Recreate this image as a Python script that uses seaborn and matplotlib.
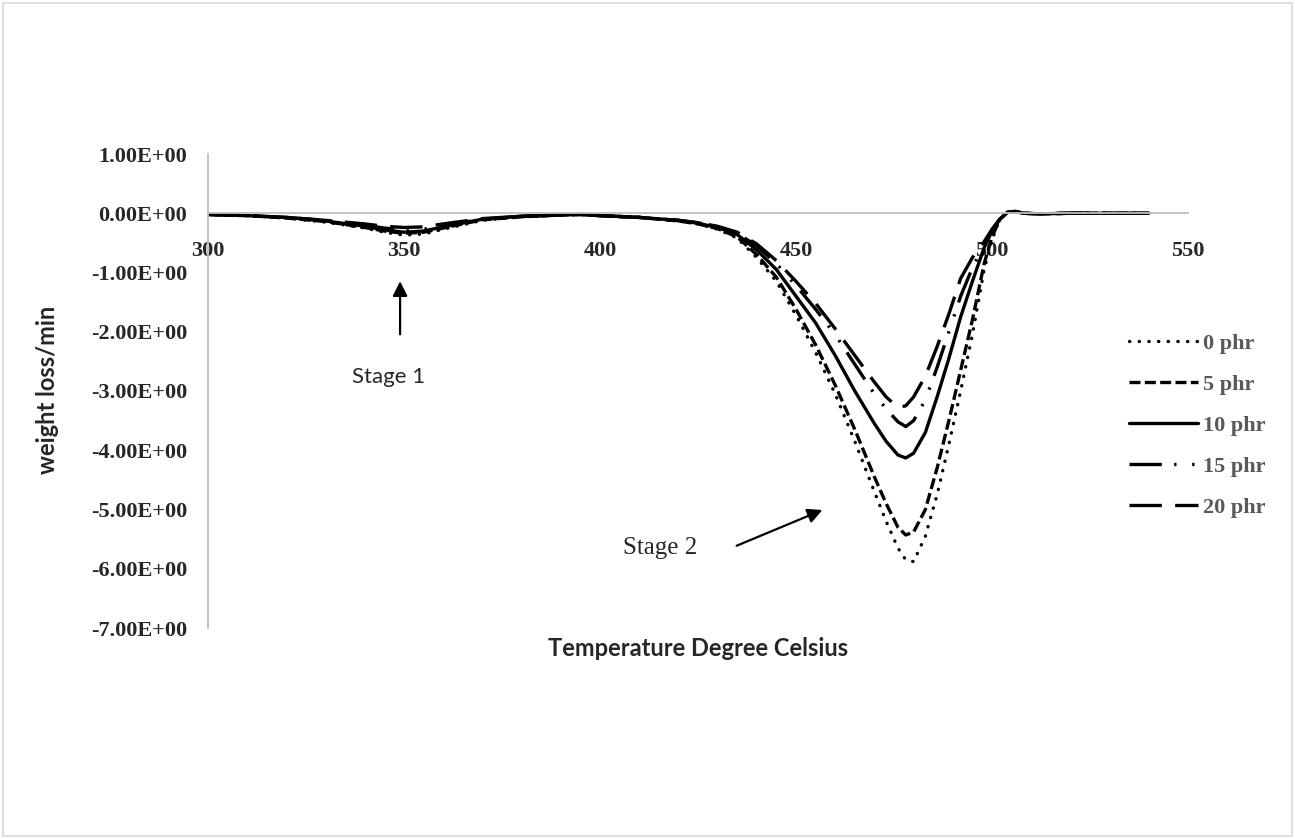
import numpy as np
import pandas as pd
import matplotlib
matplotlib.use("Agg")
from matplotlib import pyplot as plt
from matplotlib.patches import Rectangle
import seaborn as sns

# temperature (degree celsius) and weight loss/min for each filler loading
temp = [300, 310, 320, 330, 340, 345, 350, 355, 360, 370, 380, 390, 395, 400,
        410, 420, 425, 430, 435, 440, 445, 450, 455, 460, 465, 470, 473, 476,
        478, 480, 483, 486, 489, 492, 495, 498, 500, 502, 504, 506, 508, 512,
        520, 530, 540]

phr0 = [-0.02, -0.04, -0.08, -0.15, -0.25, -0.32, -0.37, -0.35, -0.27, -0.12,
        -0.06, -0.03, -0.02, -0.04, -0.07, -0.13, -0.18, -0.27, -0.42, -0.75,
        -1.15, -1.72, -2.35, -3.05, -3.85, -4.70, -5.20, -5.65, -5.85, -5.88,
        -5.45, -4.75, -3.90, -3.00, -2.05, -0.95, -0.45, -0.10, 0.02, 0.03,
        0.00, -0.01, 0.00, 0.00, 0.00]
phr5 = [-0.02, -0.04, -0.08, -0.14, -0.24, -0.30, -0.34, -0.32, -0.25, -0.11,
        -0.06, -0.03, -0.02, -0.04, -0.07, -0.13, -0.18, -0.26, -0.40, -0.70,
        -1.08, -1.62, -2.22, -2.90, -3.65, -4.45, -4.90, -5.30, -5.43, -5.38,
        -5.00, -4.30, -3.50, -2.65, -1.80, -0.85, -0.40, -0.10, 0.02, 0.03,
        0.00, -0.01, 0.00, 0.00, 0.00]
phr10 = [-0.02, -0.04, -0.07, -0.13, -0.22, -0.28, -0.32, -0.30, -0.23, -0.10,
         -0.05, -0.03, -0.02, -0.04, -0.07, -0.12, -0.17, -0.24, -0.36, -0.62,
         -0.95, -1.40, -1.85, -2.40, -3.00, -3.55, -3.85, -4.08, -4.13, -4.05,
         -3.70, -3.10, -2.45, -1.75, -1.15, -0.58, -0.30, -0.10, 0.02, 0.03,
         0.00, -0.01, 0.00, 0.00, 0.00]
phr15 = [-0.02, -0.04, -0.07, -0.12, -0.20, -0.25, -0.28, -0.27, -0.21, -0.10,
         -0.05, -0.03, -0.02, -0.04, -0.07, -0.12, -0.16, -0.23, -0.34, -0.55,
         -0.85, -1.22, -1.62, -2.05, -2.55, -3.05, -3.30, -3.52, -3.60, -3.50,
         -3.15, -2.60, -2.00, -1.40, -0.92, -0.53, -0.28, -0.10, 0.02, 0.03,
         0.00, -0.01, 0.00, 0.00, 0.00]
phr20 = [-0.02, -0.04, -0.07, -0.12, -0.18, -0.22, -0.24, -0.23, -0.18, -0.09,
         -0.05, -0.03, -0.02, -0.04, -0.07, -0.12, -0.16, -0.22, -0.32, -0.52,
         -0.80, -1.15, -1.52, -1.95, -2.40, -2.85, -3.10, -3.28, -3.25, -3.10,
         -2.75, -2.25, -1.70, -1.10, -0.75, -0.48, -0.27, -0.10, 0.02, 0.03,
         0.00, -0.01, 0.00, 0.00, 0.00]

labels = ["0 phr", "5 phr", "10 phr", "15 phr", "20 phr"]
series = [phr0, phr5, phr10, phr15, phr20]
x_ticks = [300, 350, 400, 450, 500, 550]
y_ticks = [1, 0, -1, -2, -3, -4, -5, -6, -7]

styles = [(0, (0.1, 2.8)), (0, (3.3, 1.3)), "-",
          (0, (9.7, 3.7, 0.7, 4.7, 0.7, 3.7)), (0, (9.7, 4.0))]

sns.set_style("white")
serif = ["Liberation Serif", "DejaVu Serif"]
sans = ["Lato", "DejaVu Sans"]

fig = plt.figure(figsize=(12.95, 8.39), dpi=100)
ax = fig.add_axes([208 / 1295, 1 - 628 / 839, 980 / 1295, 474 / 839])

for name, vals, ls in zip(labels, series, styles):
    sns.lineplot(x=temp, y=vals, ax=ax, color="black", lw=2.4, linestyle=ls,
                 label=name, dash_capstyle="round" if name == "0 phr" else "butt")

# spines first: moving a spine resets the tick label styling
for s in ["top", "right"]:
    ax.spines[s].set_visible(False)
ax.spines["bottom"].set_position(("data", 0))
ax.spines["bottom"].set_color("#bfbfbf")
ax.spines["left"].set_color("#bfbfbf")
ax.spines["bottom"].set_linewidth(1.3)
ax.spines["left"].set_linewidth(1.3)

ax.set_xlim(300, 550)
ax.set_ylim(-7, 1)
ax.set_xticks(x_ticks)
ax.set_xticklabels([str(t) for t in x_ticks], family=serif, fontweight="bold",
                   fontsize=16)
ax.set_yticks(y_ticks)
ax.set_yticklabels([f"{v:.2E}" for v in y_ticks], family=serif,
                   fontweight="bold", fontsize=16)
ax.tick_params(axis="x", length=0, pad=20)
ax.tick_params(axis="y", length=0, pad=15)

ax.set_xlabel("")
ax.set_ylabel("")
fig.text(698 / 1295, 1 - 648 / 839, "Temperature Degree Celsius", family=sans,
         fontweight="bold", fontsize=17, ha="center", va="center")
fig.text(48 / 1295, 1 - 390 / 839, "weight loss/min", family=sans,
         fontweight="bold", fontsize=17, ha="center", va="center", rotation=90)

# stage annotations
ax.annotate("", xy=(349, -1.10), xytext=(349, -2.09),
            arrowprops=dict(arrowstyle="-|>", color="black", lw=1.6,
                            mutation_scale=22))
ax.text(346, -2.77, "Stage 1", family=sans, fontsize=16, ha="center",
        va="center")
ax.annotate("", xy=(457.4, -4.99), xytext=(434.2, -5.63),
            arrowprops=dict(arrowstyle="-|>", color="black", lw=1.6,
                            mutation_scale=22))
ax.text(415.3, -5.65, "Stage 2", family=serif, fontsize=18, ha="center",
        va="center")

leg = ax.legend(loc="upper left", bbox_to_anchor=(1129 / 1295, 1 - 333 / 839),
                bbox_transform=fig.transFigure, frameon=False, handlelength=3.1,
                handletextpad=0.25, labelspacing=0.92, borderpad=0,
                borderaxespad=0, prop=dict(family=serif, weight="bold", size=16))
for t in leg.get_texts():
    t.set_color("#595959")

fig.patches.append(Rectangle((3 / 1295, 3 / 839), 1289 / 1295, 833 / 839,
                             transform=fig.transFigure, fill=False,
                             edgecolor="#d9d9d9", lw=1.2))

fig.savefig("out.png", dpi=100, facecolor="white")
